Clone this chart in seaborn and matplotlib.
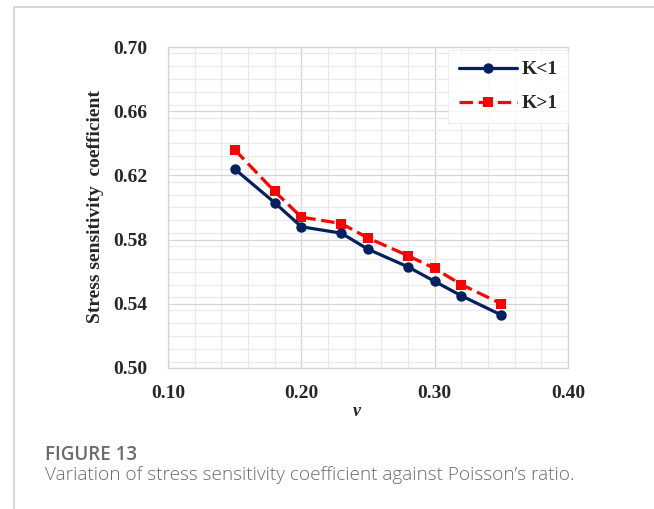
import matplotlib
matplotlib.use("Agg")
import matplotlib.pyplot as plt
from matplotlib.lines import Line2D
from matplotlib.ticker import MultipleLocator
import numpy as np
import pandas as pd
import seaborn as sns

# Poisson's ratio and stress sensitivity coefficient for both cases
poisson = [0.15, 0.18, 0.20, 0.23, 0.25, 0.28, 0.30, 0.32, 0.35]
k_less_1 = [0.624, 0.603, 0.588, 0.584, 0.574, 0.563, 0.554, 0.545, 0.533]
k_greater_1 = [0.636, 0.610, 0.594, 0.590, 0.581, 0.570, 0.562, 0.552, 0.540]
series_names = ["K<1", "K>1"]
x_ticks = [0.10, 0.20, 0.30, 0.40]
y_ticks = [0.50, 0.54, 0.58, 0.62, 0.66, 0.70]

df = pd.DataFrame({
    "v": poisson * 2,
    "coef": k_less_1 + k_greater_1,
    "case": [series_names[0]] * len(poisson) + [series_names[1]] * len(poisson),
})

sns.set_theme(style="white")
plt.rcParams["font.family"] = ["Liberation Serif", "DejaVu Serif"]

fig = plt.figure(figsize=(6.54, 5.09), dpi=100)
ax = fig.add_axes([168 / 654, 1 - 368 / 509, 400 / 654, 321 / 509])

navy = "#002060"
red = "#ff0000"
lw = 2.3
dash = [4.2, 1.8]
sns.lineplot(data=df[df.case == "K<1"], x="v", y="coef", ax=ax, color=navy,
             linewidth=lw, marker="o", markersize=7.5, markeredgewidth=0,
             zorder=4, legend=False)
sns.lineplot(data=df[df.case == "K>1"], x="v", y="coef", ax=ax, color=red,
             linewidth=lw, marker="s", markersize=7.2, markeredgewidth=0,
             zorder=3, legend=False)
ax.lines[1].set_dashes(dash)

ax.set_xlim(0.10, 0.40)
ax.set_ylim(0.50, 0.70)
ax.set_xticks(x_ticks)
ax.set_yticks(y_ticks)
ax.set_xticklabels([f"{t:.2f}" for t in x_ticks])
ax.set_yticklabels([f"{t:.2f}" for t in y_ticks])
ax.xaxis.set_minor_locator(MultipleLocator(0.02))
ax.yaxis.set_minor_locator(MultipleLocator(0.008))
ax.grid(which="major", color="#d4d4d4", linewidth=0.9, zorder=0)
ax.grid(which="minor", color="#e9e9e9", linewidth=0.9, zorder=0)
ax.set_axisbelow(True)
for s in ax.spines.values():
    s.set_color("#d4d4d4")
    s.set_linewidth(0.9)
ax.tick_params(which="both", length=0)
ax.tick_params(axis="x", pad=12.5, labelsize=14)
ax.tick_params(axis="y", pad=15, labelsize=14)
for lab in ax.get_xticklabels() + ax.get_yticklabels():
    lab.set_fontweight("bold")

ax.set_xlabel("")
ax.set_ylabel("")
fig.text(95 / 654, 1 - 207 / 509, "Stress sensitivity  coefficient", rotation=90,
         ha="center", va="center", fontsize=14, fontweight="bold")
fig.text(357 / 654, 1 - 411 / 509, "ν", ha="center", va="center",
         fontsize=13, fontweight="bold", style="italic")

handles = [
    Line2D([], [], color=navy, lw=lw, marker="o", markersize=7.5, markeredgewidth=0),
    Line2D([], [], color=red, lw=lw, marker="s", markersize=7.2, markeredgewidth=0,
           dashes=dash),
]
leg = ax.legend(handles, series_names, loc="upper right",
                bbox_to_anchor=(1.0, 1.0 - 3 / 321), frameon=True,
                fancybox=False, handlelength=3.0, handletextpad=0.2,
                borderaxespad=0.0, borderpad=0.55, labelspacing=0.85,
                prop={"family": "Liberation Serif", "weight": "bold", "size": 14})
leg.get_frame().set_edgecolor("#ececec")
leg.get_frame().set_facecolor("white")
leg.get_frame().set_linewidth(0.8)

# caption box border
fig.add_artist(Line2D([14 / 654, 14 / 654], [0, 1 - 7 / 509],
                      transform=fig.transFigure, color="#d0d0d0", lw=1.2))
fig.add_artist(Line2D([14 / 654, 1], [1 - 7 / 509, 1 - 7 / 509],
                      transform=fig.transFigure, color="#d0d0d0", lw=1.2))

fig.text(45 / 654, 1 - 453 / 509, "FIGURE 13", ha="left", va="center_baseline",
         fontsize=13.5, color="#6b6b6b", family=["Open Sans", "DejaVu Sans"],
         fontweight="semibold")
fig.text(45 / 654, 1 - 473 / 509,
         "Variation of stress sensitivity coefficient against Poisson’s ratio.",
         ha="left", va="center_baseline", fontsize=13.7, color="#6b6b6b",
         family=["Open Sans", "DejaVu Sans"], fontweight="light")

fig.savefig("out.png", dpi=100, facecolor="white")
